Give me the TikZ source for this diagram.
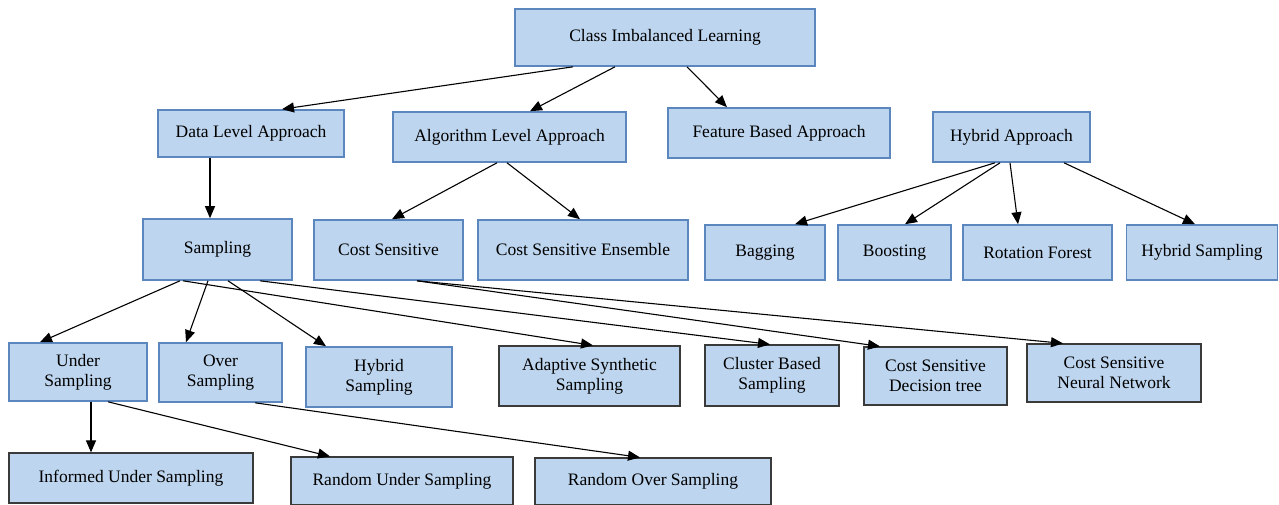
\documentclass[tikz,border=0pt]{standalone}
\usepackage{fontspec}
\setmainfont{Liberation Serif}
\usetikzlibrary{arrows.meta}
\definecolor{boxfill}{HTML}{BDD5EE}
\definecolor{boxline}{HTML}{5B87BE}
\definecolor{darkline}{HTML}{3A3A3A}
\tikzset{
  box/.style={draw=boxline, line width=1.6pt, fill=boxfill, inner sep=0pt,
    align=center, font=\fontsize{17.5}{20}\selectfont, text=black},
  dbox/.style={box, draw=darkline, line width=1.2pt},
  arr/.style={draw=black, line width=1.1pt, -{Triangle[length=12pt,width=10pt]}}
}
\newcommand{\bx}[6][box]{\node[#1, minimum width=#4pt, minimum height=#5pt] (#2) at #3 {#6};}
\begin{document}
\begin{tikzpicture}[x=1pt,y=-1pt]
\useasboundingbox (0,0) rectangle (1279,505);
% row 1
\bx{cil}{(665,37.5)}{300}{57}{Class Imbalanced Learning}
% row 2
\bx{dla}{(251,133.5)}{186}{47}{Data Level Approach}
\bx{ala}{(509.5,137)}{233}{50}{Algorithm Level Approach}
\bx{fba}{(779,133)}{222}{50}{Feature Based Approach}
\bx{ha}{(1011.5,137)}{157}{50}{Hybrid Approach}
% row 3
\bx{samp}{(217.5,249.5)}{149}{61}{Sampling}
\bx{cs}{(388.5,250)}{149}{60}{Cost Sensitive}
\bx{cse}{(583,250)}{210}{60}{Cost Sensitive Ensemble}
\bx{bag}{(765,252.5)}{120}{55}{Bagging}
\bx{boost}{(894.5,252.5)}{113}{55}{Boosting}
\bx{rf}{(1037.5,252.5)}{149}{55}{Rotation Forest}
\bx{hsa}{(1202,252.5)}{151}{55}{Hybrid Sampling}
% row 4
\bx{us}{(78,372)}{138}{58}{Under\\Sampling}
\bx{os}{(220.5,372.5)}{123}{59}{Over\\Sampling}
\bx{hsb}{(379,377)}{146}{60}{Hybrid\\Sampling}
\bx[dbox]{ass}{(589.5,376)}{181}{60}{Adaptive Synthetic\\Sampling}
\bx[dbox]{cbs}{(772,375.5)}{134}{61}{Cluster Based\\Sampling}
\bx[dbox]{csdt}{(935.5,376)}{143}{58}{Cost Sensitive\\Decision tree}
\bx[dbox]{csnn}{(1114,373)}{174}{58}{Cost Sensitive\\Neural Network}
% row 5
\bx[dbox]{ius}{(131,478)}{244}{50}{Informed Under Sampling}
\bx[dbox]{rus}{(402,481)}{222}{48}{Random Under Sampling}
\bx[dbox]{ros}{(653,481.5)}{236}{47}{Random Over Sampling}
% connectors
\draw[arr] ([xshift=-92pt]cil.south) -- ([xshift=31pt]dla.north);
\draw[arr] ([xshift=-50pt]cil.south) -- ([xshift=20.5pt]ala.north);
\draw[arr] ([xshift=22pt]cil.south) -- ([xshift=-52pt]fba.north);
\draw[arr] ([xshift=-41pt]dla.south) -- ([xshift=-7.5pt]samp.north);
\draw[arr] ([xshift=-12.5pt]ala.south) -- ([xshift=3.5pt]cs.north);
\draw[arr] ([xshift=-2.5pt]ala.south) -- ([xshift=-3pt]cse.north);
\draw[arr] ([xshift=-16.5pt]ha.south) -- ([xshift=30pt]bag.north);
\draw[arr] ([xshift=-11.5pt]ha.south) -- ([xshift=10.5pt]boost.north);
\draw[arr] ([xshift=-1.5pt]ha.south) -- ([xshift=-19.5pt]rf.north);
\draw[arr] ([xshift=52.5pt]ha.south) -- ([xshift=-7pt]hsa.north);
\draw[arr] ([xshift=-37.5pt]samp.south) -- ([xshift=-38pt]us.north);
\draw[arr] ([xshift=-9.5pt]samp.south) -- ([xshift=-34.5pt]os.north);
\draw[arr] ([xshift=10.5pt]samp.south) -- ([xshift=-53pt]hsb.north);
\draw[arr] ([xshift=-34.5pt]samp.south) -- ([xshift=3.5pt]ass.north);
\draw[arr] ([xshift=42.5pt]samp.south) -- ([xshift=-2pt]cbs.north);
\draw[arr] ([xshift=28.5pt]cs.south) -- ([xshift=-55.5pt]csdt.north);
\draw[arr] ([xshift=28.5pt]cs.south) -- ([xshift=-51pt]csnn.north);
\draw[arr] ([xshift=13pt]us.south) -- ([xshift=-40pt]ius.north);
\draw[arr] ([xshift=30pt]us.south) -- ([xshift=-72pt]rus.north);
\draw[arr] ([xshift=34.5pt]os.south) -- ([xshift=-13pt]ros.north);
\end{tikzpicture}
\end{document}
